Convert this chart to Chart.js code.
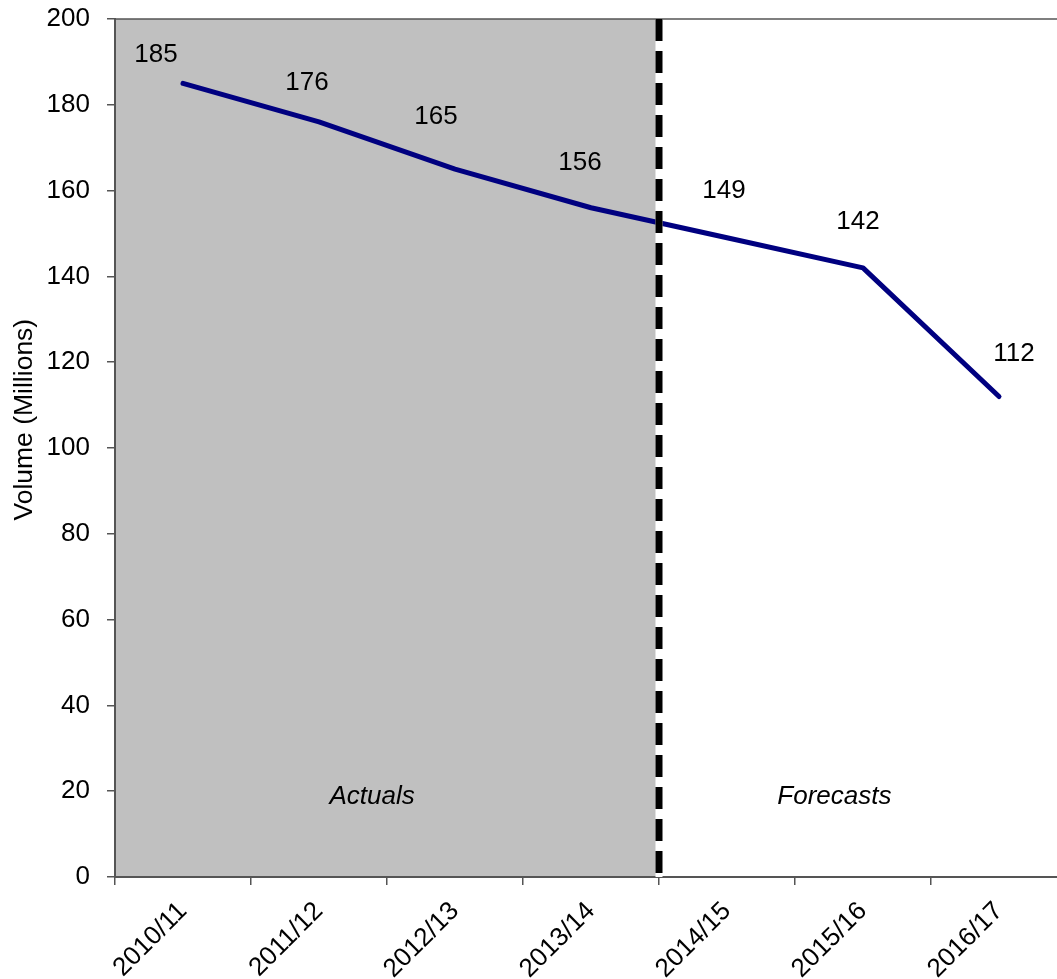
<!DOCTYPE html>
<html>
<head>
<meta charset="utf-8">
<script src="https://cdn.jsdelivr.net/npm/chart.js@4.4.1/dist/chart.umd.min.js"></script>
<style>
  html, body { margin: 0; padding: 0; background: #ffffff; overflow: hidden; }
  #wrap { width: 1080px; height: 979px; position: relative; }
  canvas { display: block; }
</style>
</head>
<body>
<div id="wrap"><canvas id="chart" width="1080" height="979"></canvas></div>
<script>
// Financial years on the category axis
const years = ['2010/11', '2011/12', '2012/13', '2013/14', '2014/15', '2015/16', '2016/17'];
// Volume per year, millions
const volumes = [185, 176, 165, 156, 149, 142, 112];
// The first four years are actuals, the rest are forecasts
const actualYears = 4;
const regionLabels = ['Actuals', 'Forecasts'];
// Value-axis range and step
const yMin = 0, yMax = 200, yStep = 20;
const yTitle = 'Volume (Millions)';

// Where each value label sits relative to its point (pixels)
const valueLabelShift = [[-27, -29], [-12, -39], [-19, -52], [-11, -45], [-3, -47], [-5, -46], [15, -43]];
// Horizontal centre of each region caption, in category units
const regionLabelAt = [1.39, 4.79];
const regionLabelValue = 18.7;
// Axis title: baseline x and centre on the value axis
const yTitleX = 31.5;
const yTitleAtValue = 106.6;

const FONT = '"Liberation Sans", Arial, Helvetica, sans-serif';
const FS = 26;
const AXIS = '#555555';

const panelPlugin = {
  id: 'panels',
  beforeDraw(chart) {
    const { ctx, chartArea: a, scales: { x, y } } = chart;
    const split = x.getPixelForValue(actualYears - 0.5);
    ctx.save();
    ctx.fillStyle = '#c0c0c0';
    ctx.fillRect(a.left, a.top, split - a.left, a.bottom - a.top);
    // frame line along the top of the plot
    ctx.strokeStyle = AXIS;
    ctx.lineWidth = 1.5;
    ctx.beginPath();
    ctx.moveTo(a.left, a.top);
    ctx.lineTo(a.right, a.top);
    ctx.stroke();

    // value-axis title
    ctx.translate(yTitleX, y.getPixelForValue(yTitleAtValue));
    ctx.rotate(-Math.PI / 2);
    ctx.fillStyle = '#000000';
    ctx.font = '26.5px ' + FONT;
    ctx.textAlign = 'center';
    ctx.textBaseline = 'alphabetic';
    ctx.fillText(yTitle, 0, 0);
    ctx.restore();
  },
  afterDatasetsDraw(chart) {
    const { ctx, chartArea: a, scales: { x, y } } = chart;
    const split = x.getPixelForValue(actualYears - 0.5);
    ctx.save();
    // divider between actuals and forecasts
    ctx.lineWidth = 7;
    ctx.strokeStyle = '#ffffff';
    ctx.beginPath();
    ctx.moveTo(split, a.top);
    ctx.lineTo(split, a.bottom);
    ctx.stroke();
    ctx.strokeStyle = '#000000';
    ctx.setLineDash([22, 10]);
    ctx.beginPath();
    ctx.moveTo(split, a.top);
    ctx.lineTo(split, a.bottom);
    ctx.stroke();
    ctx.setLineDash([]);

    // region captions
    ctx.fillStyle = '#000000';
    ctx.font = 'italic ' + FS + 'px ' + FONT;
    ctx.textAlign = 'center';
    ctx.textBaseline = 'middle';
    regionLabels.forEach((t, i) => {
      ctx.fillText(t, x.getPixelForValue(regionLabelAt[i]), y.getPixelForValue(regionLabelValue));
    });

    // value labels
    ctx.font = FS + 'px ' + FONT;
    const meta = chart.getDatasetMeta(0);
    meta.data.forEach((pt, i) => {
      const [dx, dy] = valueLabelShift[i];
      ctx.fillText(String(volumes[i]), pt.x + dx, pt.y + dy);
    });
    ctx.restore();
  }
};

new Chart(document.getElementById('chart'), {
  type: 'line',
  data: {
    labels: years,
    datasets: [{
      data: volumes,
      borderColor: '#000080',
      borderWidth: 5,
      borderCapStyle: 'round',
      borderJoinStyle: 'round',
      pointRadius: 0,
      pointHoverRadius: 0,
      tension: 0,
      fill: false,
      clip: false
    }]
  },
  options: {
    responsive: false,
    animation: false,
    devicePixelRatio: 1,
    events: [],
    layout: { padding: { top: 19, right: 13, left: 0, bottom: 0 } },
    plugins: { legend: { display: false }, tooltip: { enabled: false } },
    scales: {
      x: {
        type: 'category',
        offset: true,
        grid: { display: true, offset: true, drawOnChartArea: false, drawTicks: true, tickLength: 8, color: AXIS, lineWidth: 1.5 },
        border: { display: true, color: AXIS, width: 2 },
        ticks: {
          color: '#000000',
          font: { family: FONT, size: FS },
          minRotation: 45,
          maxRotation: 45,
          autoSkip: false,
          padding: 11
        },
        afterFit(scale) {
          scale.height = 102;
          scale.paddingLeft = 0;
          scale.paddingRight = 0;
        }
      },
      y: {
        min: yMin,
        max: yMax,
        grid: { display: true, drawOnChartArea: false, drawTicks: true, tickLength: 8, color: AXIS, lineWidth: 1.5 },
        border: { display: true, color: AXIS, width: 2 },
        ticks: {
          stepSize: yStep,
          color: '#000000',
          font: { family: FONT, size: FS },
          padding: 17
        },
        afterFit(scale) {
          scale.width = 115;
          scale.paddingTop = 0;
          scale.paddingBottom = 0;
        }
      }
    }
  },
  plugins: [panelPlugin]
});
</script>
</body>
</html>
